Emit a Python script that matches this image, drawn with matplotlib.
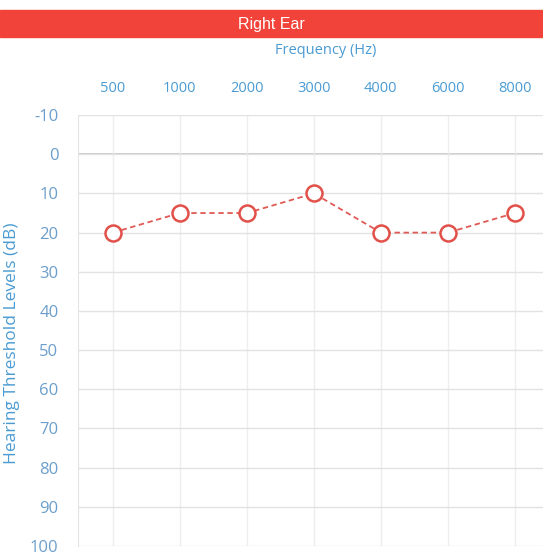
import numpy as np
import matplotlib.pyplot as plt
from matplotlib.patches import Rectangle

plt.rcParams["axes.unicode_minus"] = False
plt.rcParams["font.family"] = ["Open Sans", "DejaVu Sans"]

# data
freqs = ["500", "1000", "2000", "3000", "4000", "6000", "8000"]
thresholds = [20, 15, 15, 10, 20, 20, 15]
yticks = list(range(-10, 101, 10))

blue = "#4a9bd3"
red = "#ee4a40"

fig = plt.figure(figsize=(5.43, 5.56), dpi=100)
ax = fig.add_axes([0.1436, 0.018, 0.8564, 0.775])

x = np.arange(len(freqs))
ax.plot(x, thresholds, linestyle="--", color="#e05a55", lw=1.3, dashes=(3, 2),
        marker="o", markersize=11.5, markerfacecolor="white",
        markeredgecolor="#e2504a", markeredgewidth=1.8, zorder=3)

ax.set_xlim(-0.52, 6.42)
ax.set_ylim(100, -10)
ax.set_xticks(x)
ax.set_xticklabels(freqs)
ax.set_yticks(yticks)
ax.xaxis.tick_top()
ax.tick_params(axis="x", colors=blue, labelsize=10.5, length=0, pad=14)
ax.tick_params(axis="y", colors="#6c9ecb", labelsize=12, length=0, pad=14)
ax.grid(True, axis="y", color="#e2e2e2", lw=1)
ax.grid(True, axis="x", color="#eeeeee", lw=1)
ax.axhline(0, color="#c0c0c0", lw=1.2, zorder=1)
for s in ["top", "right", "bottom"]:
    ax.spines[s].set_visible(False)
ax.spines["left"].set_color("#e4e4e4")

ax.set_ylabel("Hearing Threshold Levels (dB)", color=blue, fontsize=12.5, labelpad=4)
ax.yaxis.set_label_coords(-0.125, 0.47)

# banner
fig.patches.append(Rectangle((0, 1 - 37 / 556), 1, 27 / 556, transform=fig.transFigure,
                             color="#f2433a", zorder=0))
fig.text(0.5, 1 - 24 / 556, "Right Ear", color="white", fontsize=11.5,
         ha="center", va="center", family="Liberation Sans")
fig.text(0.6, 1 - 51 / 556, "Frequency (Hz)", color=blue, fontsize=10.5,
         ha="center", va="center")

fig.savefig("out.png", dpi=100)
